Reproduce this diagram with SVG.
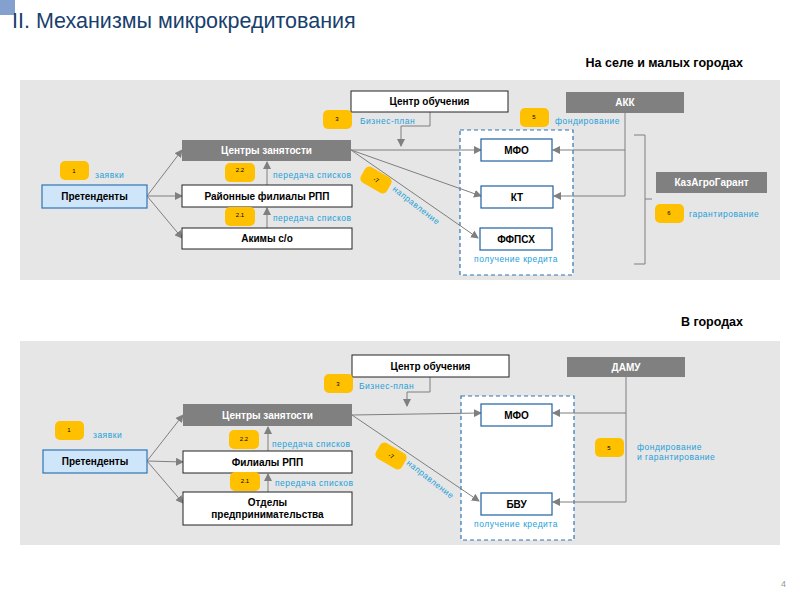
<svg xmlns="http://www.w3.org/2000/svg" width="800" height="600" viewBox="0 0 800 600">
<style>
text{font-family:"Liberation Sans",Arial,sans-serif}
.panel{fill:#e6e6e6}
.w{fill:#fff;stroke:#222;stroke-width:1}
.b{fill:#fff;stroke:#1f5f9f;stroke-width:1.2}
.g{fill:#808080}
.lb{fill:#cfe6fa;stroke:#2e75b6;stroke-width:1.2}
.t{font-size:10px;font-weight:bold;text-anchor:middle;fill:#000}
.tw{font-size:10px;font-weight:bold;text-anchor:middle;fill:#fff}
.bl{font-size:8.5px;fill:#1ea0d8;letter-spacing:0.5px}
.badge{fill:#ffc000}
.bt{font-size:6px;text-anchor:middle;fill:#000}
.c{fill:none;stroke:#7f7f7f;stroke-width:1}
.dash{fill:#fff;stroke:#2e75b6;stroke-width:1.2;stroke-dasharray:4 3}
</style>
<defs>
<marker id="a" markerWidth="8" markerHeight="8" refX="7" refY="4" orient="auto" markerUnits="userSpaceOnUse">
<path d="M0,0 L8,4 L0,8 z" fill="#7f7f7f"/>
</marker>
</defs>
<rect x="0" y="0" width="15" height="15" fill="#6d8fc7" opacity="0.85"/>
<text x="12" y="28" font-size="21.5" fill="#17406d">II. Механизмы микрокредитования</text>
<text x="743" y="67" font-size="12.5" font-weight="bold" text-anchor="end">На селе и малых городах</text>
<text x="743" y="326" font-size="12.5" font-weight="bold" text-anchor="end">В городах</text>
<text x="786" y="587" font-size="9" fill="#999" text-anchor="end">4</text>

<rect class="panel" x="20" y="80" width="760" height="200"/>
<rect class="panel" x="20" y="341" width="760" height="204"/>

<!-- panel 1 -->
<rect class="dash" x="460" y="130" width="113" height="145"/>
<g id="connectors1">
<path class="c" d="M147,196 L182,150" marker-end="url(#a)"/>
<path class="c" d="M147,196 L182,196" marker-end="url(#a)"/>
<path class="c" d="M147,196 L182,238" marker-end="url(#a)"/>
<path class="c" d="M267,228 L267,208" marker-end="url(#a)"/>
<path class="c" d="M267,185 L267,162" marker-end="url(#a)"/>
<path class="c" d="M351,150 L481,150" marker-end="url(#a)"/>
<path class="c" d="M351,150 L481,196" marker-end="url(#a)"/>
<path class="c" d="M351,150 L478,238" marker-end="url(#a)"/>
<path class="c" d="M430,112 L430,126 L401,126 L401,146" marker-end="url(#a)"/>
<path class="c" d="M625,113 L625,196"/>
<path class="c" d="M625,150 L553,150" marker-end="url(#a)"/>
<path class="c" d="M625,196 L554,196" marker-end="url(#a)"/>
<path class="c" d="M634,135 L645,135 L645,264 L634,264 M645,199 L652,199"/>
</g>
<g id="pretendenty1"><rect class="lb" x="42" y="185" width="105" height="23"/><text class="t" x="94.5" y="200">Претенденты</text></g>
<g id="centry1"><rect class="g" x="182" y="140" width="169" height="21"/><text class="tw" x="266.5" y="154">Центры  занятости</text></g>
<g id="rpp1"><rect class="w" x="182" y="185" width="170" height="22"/><text class="t" x="267" y="200">Районные филиалы РПП</text></g>
<g id="akimy1"><rect class="w" x="182" y="228" width="170" height="21"/><text class="t" x="267" y="242">Акимы с/о</text></g>
<g id="obuch1"><rect class="w" x="351" y="91" width="157" height="21" stroke="#1f3f6f"/><text class="t" x="429.5" y="105">Центр обучения</text></g>
<g id="mfo1"><rect class="b" x="481" y="139" width="71" height="22"/><text class="t" x="516.5" y="154">МФО</text></g>
<g id="kt1"><rect class="b" x="481" y="186" width="72" height="22"/><text class="t" x="517" y="201">КТ</text></g>
<g id="ffpsh1"><rect class="b" x="480" y="228" width="72" height="22"/><text class="t" x="516" y="243">ФФПСХ</text></g>
<g id="akk"><rect class="g" x="566" y="92" width="118" height="21"/><text class="tw" x="625" y="106">АКК</text></g>
<g id="kazagro"><rect class="g" x="656" y="172" width="111" height="21"/><text class="tw" x="711.5" y="186">КазАгроГарант</text></g>
<g id="badges1">
<rect class="badge" x="60" y="161" width="29" height="19" rx="5"/><text class="bt" x="74" y="173">1</text>
<rect class="badge" x="225" y="163" width="30" height="19" rx="5"/><text class="bt" x="240" y="172">2.2</text>
<rect class="badge" x="225" y="207" width="30" height="19" rx="5"/><text class="bt" x="240" y="217">2.1</text>
<rect class="badge" x="323" y="110" width="29" height="19" rx="5"/><text class="bt" x="337" y="121">3</text>
<rect class="badge" x="520" y="108" width="29" height="19" rx="5"/><text class="bt" x="534" y="119">5</text>
<rect class="badge" x="655" y="204" width="29" height="19" rx="5"/><text class="bt" x="669" y="215">6</text>
<g transform="translate(376,180) rotate(30)"><rect class="badge" x="-15" y="-9" width="30" height="18" rx="5"/><text class="bt" x="0" y="2">-7</text></g>
</g>
<text class="bl" x="95" y="178">заявки</text>
<text class="bl" x="273" y="178">передача списков</text>
<text class="bl" x="273" y="221">передача списков</text>
<text class="bl" x="360" y="124">Бизнес-план</text>
<text class="bl" x="555" y="124">фондирование</text>
<text class="bl" x="689" y="217">гарантирование</text>
<text class="bl" x="516" y="262" text-anchor="middle">получение кредита</text>
<text class="bl" transform="translate(392,190) rotate(38)">направление</text>

<!-- panel 2 -->
<rect class="dash" x="461" y="396" width="113" height="144"/>
<g id="connectors2">
<path class="c" d="M147,461 L183,415" marker-end="url(#a)"/>
<path class="c" d="M147,461 L183,462" marker-end="url(#a)"/>
<path class="c" d="M147,461 L183,503" marker-end="url(#a)"/>
<path class="c" d="M268,492 L268,474" marker-end="url(#a)"/>
<path class="c" d="M268,451 L268,427" marker-end="url(#a)"/>
<path class="c" d="M352,415 L481,413" marker-end="url(#a)"/>
<path class="c" d="M352,415 L479,501" marker-end="url(#a)"/>
<path class="c" d="M430,377 L430,392 L407,392 L407,406" marker-end="url(#a)"/>
<path class="c" d="M626,377 L626,502"/>
<path class="c" d="M626,413 L553,413" marker-end="url(#a)"/>
<path class="c" d="M626,502 L553,502" marker-end="url(#a)"/>
</g>
<g id="pretendenty2"><rect class="lb" x="43" y="450" width="104" height="23"/><text class="t" x="95" y="465">Претенденты</text></g>
<g id="centry2"><rect class="g" x="183" y="404" width="169" height="22"/><text class="tw" x="267.5" y="419">Центры  занятости</text></g>
<g id="rpp2"><rect class="w" x="183" y="451" width="169" height="22"/><text class="t" x="267.5" y="466">Филиалы РПП</text></g>
<g id="otdely"><rect class="w" x="183" y="492" width="169" height="33"/><text class="t" x="267.5" y="506">Отделы</text><text class="t" x="267.5" y="518">предпринимательства</text></g>
<g id="obuch2"><rect class="w" x="352" y="355" width="157" height="22" stroke="#1f3f6f"/><text class="t" x="430.5" y="370">Центр обучения</text></g>
<g id="mfo2"><rect class="b" x="481" y="404" width="71" height="22"/><text class="t" x="516.5" y="419">МФО</text></g>
<g id="bvu"><rect class="b" x="481" y="493" width="71" height="22"/><text class="t" x="516.5" y="508">БВУ</text></g>
<g id="damu"><rect class="g" x="567" y="357" width="118" height="20"/><text class="tw" x="626" y="371">ДАМУ</text></g>
<g id="badges2">
<rect class="badge" x="55" y="421" width="29" height="19" rx="5"/><text class="bt" x="69" y="432">1</text>
<rect class="badge" x="229" y="430" width="30" height="19" rx="5"/><text class="bt" x="244" y="441">2.2</text>
<rect class="badge" x="230" y="472" width="30" height="19" rx="5"/><text class="bt" x="245" y="483">2.1</text>
<rect class="badge" x="324" y="374" width="29" height="19" rx="5"/><text class="bt" x="338" y="386">3</text>
<rect class="badge" x="595" y="438" width="29" height="19" rx="5"/><text class="bt" x="609" y="450">5</text>
<g transform="translate(391,456) rotate(30)"><rect class="badge" x="-15" y="-9" width="30" height="18" rx="5"/><text class="bt" x="0" y="2">-7</text></g>
</g>
<text class="bl" x="93" y="438">заявки</text>
<text class="bl" x="272" y="447">передача списков</text>
<text class="bl" x="275" y="486">передача списков</text>
<text class="bl" x="359" y="389">Бизнес-план</text>
<text class="bl" x="637" y="450">фондирование</text>
<text class="bl" x="637" y="460">и гарантирование</text>
<text class="bl" x="516" y="527" text-anchor="middle">получение кредита</text>
<text class="bl" transform="translate(406,464) rotate(38)">направление</text>
</svg>
